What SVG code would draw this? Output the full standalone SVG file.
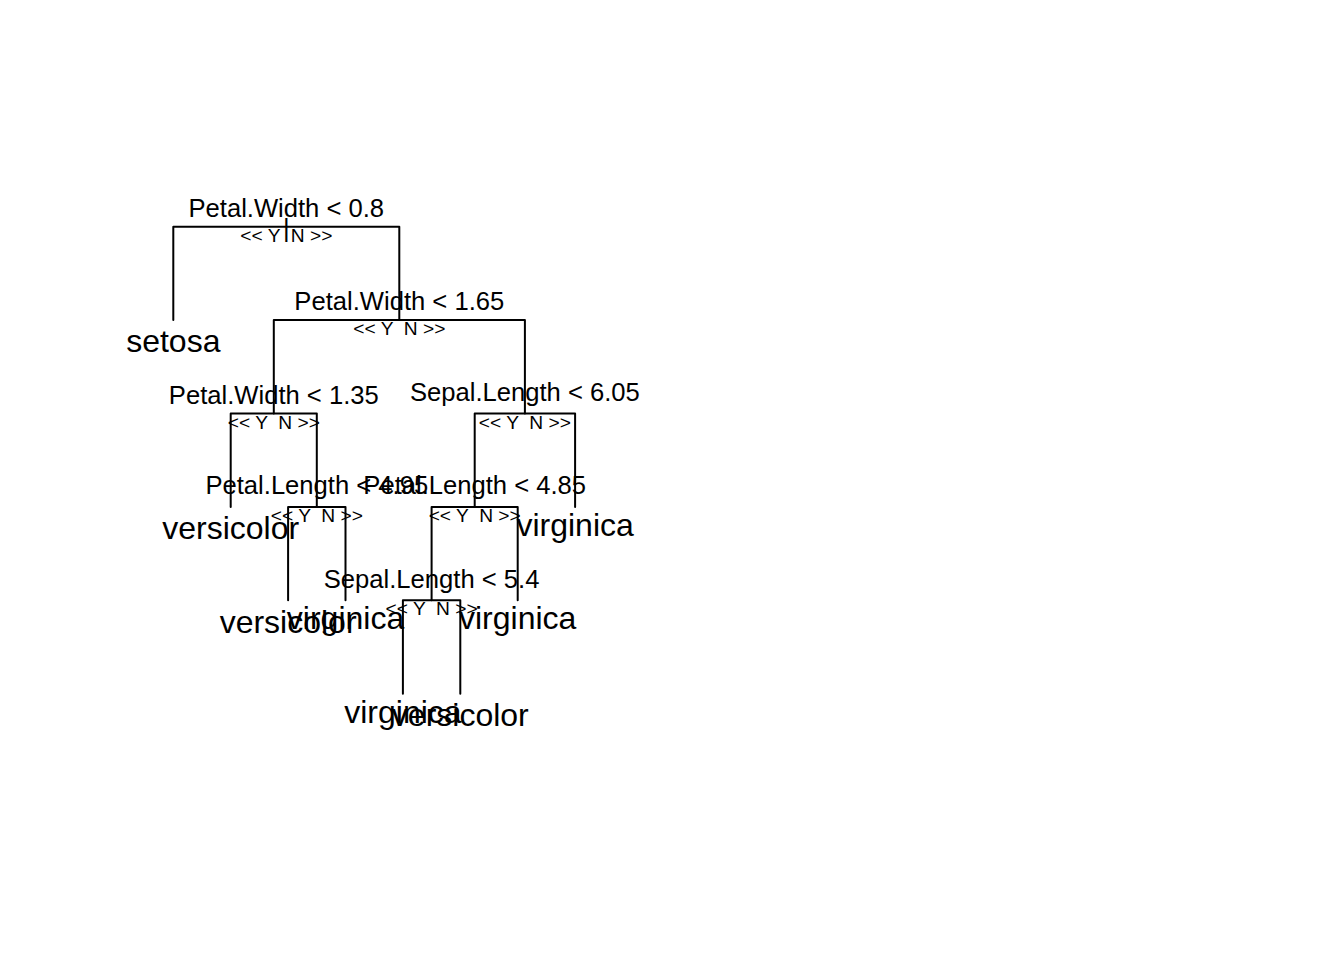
<svg xmlns="http://www.w3.org/2000/svg" width="1344" height="960" viewBox="0 0 1344 960">
<style>
.bg{fill:#fff}
.edge{fill:none;stroke:#000;stroke-width:2;stroke-linecap:round;stroke-linejoin:round}
text{font-family:"Liberation Sans",Arial,Helvetica,sans-serif;fill:#000;text-anchor:middle}
.split{font-size:25.6px}
.yn{font-size:19.2px;white-space:pre}
.leaf{font-size:32px}
</style>
<rect class="bg" x="0" y="0" width="1344" height="960"/>
<g id="connectors">
<path class="edge" d="M173.3 320.1 V226.7 H399.3 V320.1"/>
<path class="edge" d="M273.8 413.5 V320.1 H524.9 V413.5"/>
<path class="edge" d="M230.7 506.9 V413.5 H316.8 V506.9"/>
<path class="edge" d="M474.7 506.9 V413.5 H575.1 V506.9"/>
<path class="edge" d="M288.1 600.3 V506.9 H345.5 V600.3"/>
<path class="edge" d="M431.6 600.3 V506.9 H517.7 V600.3"/>
<path class="edge" d="M402.9 693.7 V600.3 H460.3 V693.7"/>
</g>
<g id="node1">
<text class="split" x="286.3" y="216.7">Petal.Width &lt; 0.8</text>
<text class="split" x="286.3" y="236.6">|</text>
<text class="yn" x="286.3" y="241.7">&lt;&lt; Y  N &gt;&gt;</text>
</g>
<g id="node2"><text class="leaf" x="173.3" y="351.7">setosa</text></g>
<g id="node3">
<text class="split" x="399.3" y="310.1">Petal.Width &lt; 1.65</text>
<text class="yn" x="399.3" y="335.1">&lt;&lt; Y  N &gt;&gt;</text>
</g>
<g id="node4">
<text class="split" x="273.8" y="403.5">Petal.Width &lt; 1.35</text>
<text class="yn" x="273.8" y="428.5">&lt;&lt; Y  N &gt;&gt;</text>
</g>
<g id="node5">
<text class="split" x="524.9" y="400.8">Sepal.Length &lt; 6.05</text>
<text class="yn" x="524.9" y="428.5">&lt;&lt; Y  N &gt;&gt;</text>
</g>
<g id="node8"><text class="leaf" x="230.7" y="539.3">versicolor</text></g>
<g id="node9">
<text class="split" x="316.8" y="494.2">Petal.Length &lt; 4.95</text>
<text class="yn" x="316.8" y="521.9">&lt;&lt; Y  N &gt;&gt;</text>
</g>
<g id="node10">
<text class="split" x="474.7" y="494.2">Petal.Length &lt; 4.85</text>
<text class="yn" x="474.7" y="521.9">&lt;&lt; Y  N &gt;&gt;</text>
</g>
<g id="node11"><text class="leaf" x="575.1" y="535.9">virginica</text></g>
<g id="node18"><text class="leaf" x="288.1" y="632.7">versicolor</text></g>
<g id="node19"><text class="leaf" x="345.5" y="629.3">virginica</text></g>
<g id="node20">
<text class="split" x="431.6" y="587.6">Sepal.Length &lt; 5.4</text>
<text class="yn" x="431.6" y="615.3">&lt;&lt; Y  N &gt;&gt;</text>
</g>
<g id="node21"><text class="leaf" x="517.7" y="629.3">virginica</text></g>
<g id="node40"><text class="leaf" x="402.9" y="722.7">virginica</text></g>
<g id="node41"><text class="leaf" x="460.3" y="726.1">versicolor</text></g>
</svg>
